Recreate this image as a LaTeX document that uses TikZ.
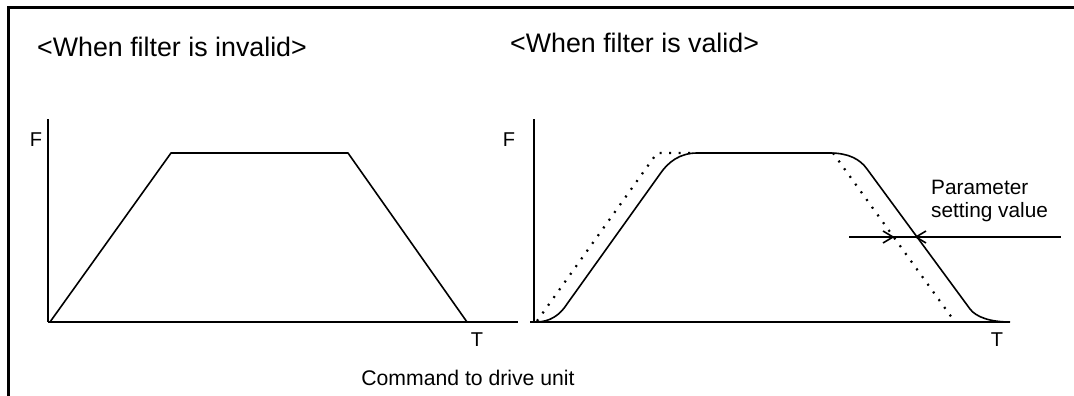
\documentclass[tikz,border=0pt]{standalone}
\usepackage{fontspec}
\setmainfont{Liberation Sans}
\begin{document}
\begin{tikzpicture}[x=1pt,y=-1pt,
  frameline/.style={line width=3pt,line cap=rect},
  axisline/.style={line width=1.8pt},
  yaxisline/.style={line width=1.2pt},
  curveline/.style={line width=1.6pt,line join=round},
  dotline/.style={line width=2.2pt,dash pattern=on 2pt off 7.5pt},
  lbl/.style={inner sep=0pt,font=\fontsize{20}{24}\selectfont},
  ttl/.style={inner sep=0pt,anchor=west,font=\fontsize{26.8}{30}\selectfont}]
\useasboundingbox (0,0) rectangle (1074,396);
% frame
\draw[frameline] (1074,8) -- (8,8) -- (8,396);
% titles
\node[ttl] (t1) at (37,47) {<When filter is invalid>};
\node[ttl] (t2) at (510,43) {<When filter is valid>};
% left graph
\coordinate (lo) at (48,322);
\draw[yaxisline] (48,119) -- (lo);
\draw[axisline] (lo) -- (518,322);
\draw[curveline] (50,322) -- (171,153) -- (348,153) -- (467,322);
\node[lbl] (lf) at (36,140) {F};
\node[lbl] (lt) at (477,340) {T};
% right graph
\coordinate (ro) at (534,322);
\draw[yaxisline] (534,119) -- (ro);
\draw[axisline] (530,322) -- (1010,322);
\node[lbl] (rf) at (509,140) {F};
\node[lbl] (rt) at (997,340) {T};
% dotted command
\draw[dotline] (537,321) -- (657,153) -- (697,153);
\draw[dotline] (833,153) -- (955,322);
% filtered output
\draw[curveline] (536,322) .. controls (550,322) and (560,315) .. (567,304)
  -- (660,174) .. controls (668,162) and (680,153) .. (697,153)
  -- (830,153) .. controls (848,153) and (860,159) .. (867,169)
  -- (970,309) .. controls (976,317) and (990,322) .. (1010,322);
% parameter
\draw[curveline] (849,237) -- (1061,237);
\draw[curveline] (883,231) -- (893,237) -- (883,243);
\draw[curveline] (926,231) -- (916,237) -- (926,243);
\node[lbl,anchor=west,align=left,font=\fontsize{20.8}{22.5}\selectfont] (pv) at (931,201) {Parameter\\setting value};
% caption
\node[lbl,font=\fontsize{21.2}{24}\selectfont] (cap) at (468,378) {Command to drive unit};
\end{tikzpicture}
\end{document}
